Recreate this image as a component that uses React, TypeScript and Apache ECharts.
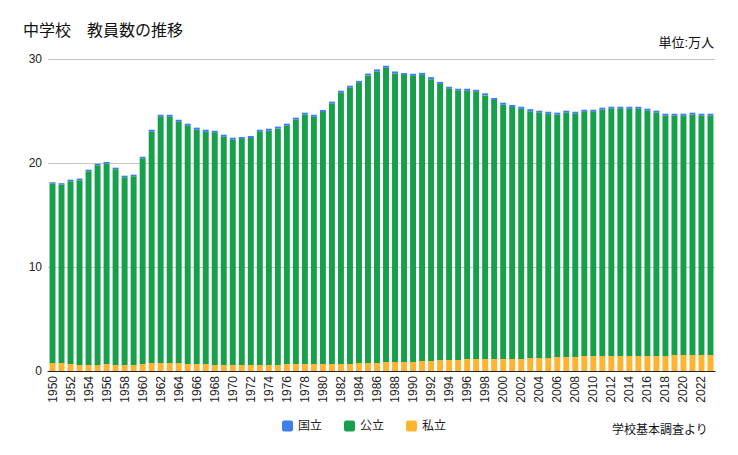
import { useRef, useEffect } from 'react'
import * as echarts from 'echarts'

const years = Array.from({ length: 74 }, (_, i) => String(1950 + i))

// 単位: 万人
const national = [
  0.15, 0.15, 0.15, 0.15, 0.15, 0.15, 0.15, 0.15, 0.15, 0.15,
  0.15, 0.2, 0.2, 0.2, 0.2, 0.2, 0.2, 0.2, 0.2, 0.2,
  0.2, 0.2, 0.2, 0.2, 0.2, 0.2, 0.2, 0.2, 0.2, 0.2,
  0.2, 0.2, 0.2, 0.2, 0.2, 0.2, 0.2, 0.2, 0.2, 0.2,
  0.2, 0.2, 0.2, 0.2, 0.2, 0.2, 0.2, 0.2, 0.2, 0.2,
  0.2, 0.2, 0.2, 0.2, 0.2, 0.2, 0.2, 0.2, 0.2, 0.2,
  0.2, 0.2, 0.2, 0.2, 0.2, 0.2, 0.2, 0.2, 0.2, 0.2,
  0.2, 0.2, 0.2, 0.2,
]

const publicSchool = [
  17.24, 17.14, 17.58, 17.77, 18.63, 19.2, 19.28, 18.82, 18.05, 18.15,
  19.78, 22.23, 23.67, 23.67, 23.19, 22.91, 22.53, 22.33, 22.32, 21.94,
  21.65, 21.72, 21.82, 22.42, 22.52, 22.72, 22.91, 23.49, 23.97, 23.77,
  24.23, 25.03, 26.08, 26.56, 26.93, 27.63, 28.03, 28.28, 27.73, 27.58,
  27.51, 27.51, 27.1, 26.54, 26.07, 25.88, 25.79, 25.69, 25.35, 24.9,
  24.45, 24.23, 24.06, 23.73, 23.58, 23.48, 23.29, 23.48, 23.38, 23.48,
  23.48, 23.68, 23.77, 23.77, 23.77, 23.77, 23.58, 23.39, 23.1, 23.0,
  23.0, 23.1, 23.0, 23.0,
]

const privateSchool = [
  0.77, 0.77, 0.67, 0.58, 0.58, 0.58, 0.67, 0.58, 0.58, 0.58,
  0.67, 0.77, 0.77, 0.77, 0.77, 0.67, 0.67, 0.67, 0.58, 0.58,
  0.58, 0.58, 0.58, 0.58, 0.58, 0.58, 0.67, 0.67, 0.67, 0.67,
  0.67, 0.67, 0.67, 0.67, 0.77, 0.77, 0.77, 0.87, 0.87, 0.87,
  0.87, 0.96, 0.96, 1.06, 1.06, 1.06, 1.15, 1.15, 1.15, 1.15,
  1.15, 1.15, 1.15, 1.25, 1.25, 1.25, 1.35, 1.35, 1.35, 1.44,
  1.44, 1.44, 1.44, 1.44, 1.44, 1.44, 1.44, 1.44, 1.44, 1.54,
  1.54, 1.54, 1.54, 1.54,
]

const font = '"Liberation Sans", "Noto Sans CJK JP", sans-serif'
const colors = { national: '#3f7fea', public: '#17a04b', private: '#feb430' }
// small rounded square for the legend keys
const keyIcon =
  'path://M2,0H8A2,2 0 0 1 10,2V8A2,2 0 0 1 8,10H2A2,2 0 0 1 0,8V2A2,2 0 0 1 2,0Z'

export default function App() {
  const chartRef = useRef<HTMLDivElement>(null)

  useEffect(() => {
    document.body.style.margin = '0'
    if (!chartRef.current) return
    const chart = echarts.init(chartRef.current, undefined, { renderer: 'svg' })

    const bar = (name: string, data: number[], color: string) => ({
      name,
      type: 'bar' as const,
      stack: 'total',
      data,
      barCategoryGap: '34%',
      itemStyle: { color },
    })

    chart.setOption({
      animation: false,
      backgroundColor: '#fff',
      textStyle: { fontFamily: font },
      title: {
        text: '中学校　教員数の推移',
        left: 18,
        top: 17,
        textStyle: { fontSize: 16, fontWeight: 'normal', color: '#111', fontFamily: font },
      },
      graphic: [
        {
          type: 'text',
          right: 24,
          top: 36,
          style: { text: '単位:万人', fontSize: 13, fill: '#111', fontFamily: font },
        },
        {
          type: 'text',
          right: 30,
          top: 424,
          style: { text: '学校基本調査より', fontSize: 12, fill: '#111', fontFamily: font },
        },
      ],
      legend: {
        left: 277,
        top: 415,
        icon: keyIcon,
        itemWidth: 11,
        itemHeight: 11,
        itemGap: 22,
        textStyle: { fontSize: 12, color: '#222', fontFamily: font },
        data: ['国立', '公立', '私立'],
      },
      grid: { left: 48, right: 23, top: 59, bottom: 84 },
      xAxis: {
        type: 'category',
        data: years,
        axisLine: { lineStyle: { color: '#222', width: 1 } },
        axisTick: { show: false },
        axisLabel: {
          interval: 1,
          rotate: 90,
          fontSize: 12,
          color: '#222',
          margin: 5,
          fontFamily: font,
        },
      },
      yAxis: {
        type: 'value',
        min: 0,
        max: 30,
        interval: 10,
        axisLine: { show: false },
        axisTick: { show: false },
        splitLine: { lineStyle: { color: '#c8c8c8' } },
        axisLabel: { fontSize: 12, color: '#222', margin: 6, fontFamily: font },
      },
      series: [
        bar('私立', privateSchool, colors.private),
        bar('公立', publicSchool, colors.public),
        bar('国立', national, colors.national),
      ],
    })

    return () => chart.dispose()
  }, [])

  return <div ref={chartRef} style={{ width: 738, height: 455 }} />
}
